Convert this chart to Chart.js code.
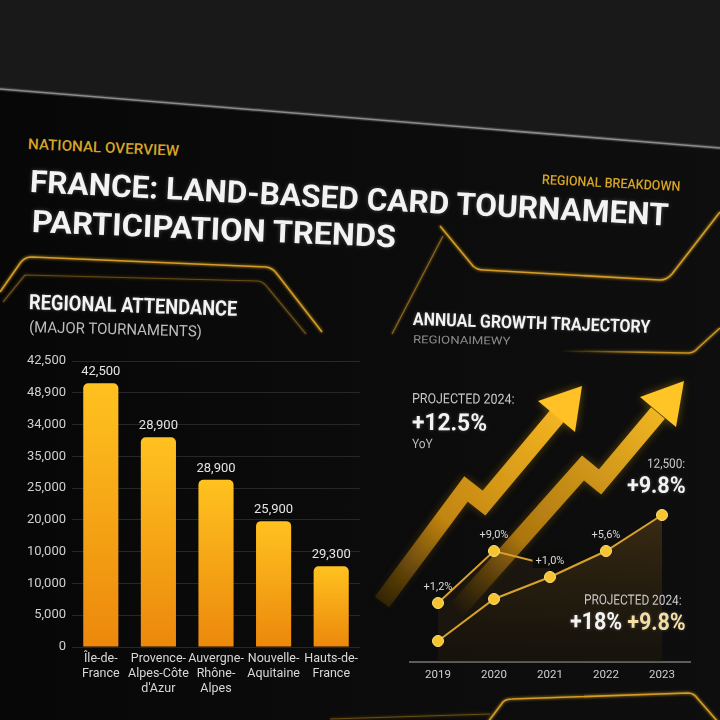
<!DOCTYPE html>
<html><head><meta charset="utf-8">
<script src="https://cdn.jsdelivr.net/npm/chart.js@4.4.1/dist/chart.umd.min.js"></script>
<style>
html,body{margin:0;padding:0;width:720px;height:720px;overflow:hidden;background:#0a0a0a;}
#stage{position:relative;width:720px;height:720px;overflow:hidden;font-family:Roboto,"Noto Sans",sans-serif;}
svg.layer{position:absolute;left:0;top:0;}
canvas{position:absolute;}
.t{position:absolute;white-space:nowrap;line-height:1;}
.b{font-weight:700;}
.m{font-weight:500;}
.gold{color:#d6a526;}
.w{color:#f3f3f3;text-shadow:0 0 4px rgba(255,255,255,0.25);}
</style></head><body>
<div id="stage">
<svg class="layer" width="720" height="720">
  <defs>
    <linearGradient id="bgLow" x1="0" y1="0" x2="1" y2="0">
      <stop offset="0" stop-color="#070707"/><stop offset="0.45" stop-color="#0b0b0b"/><stop offset="1" stop-color="#0e0e0e"/>
    </linearGradient>
    <linearGradient id="ag1" gradientUnits="userSpaceOnUse" x1="382" y1="602" x2="582" y2="386">
      <stop offset="0" stop-color="#7a5208" stop-opacity="0.3"/>
      <stop offset="0.35" stop-color="#c98a12" stop-opacity="0.95"/>
      <stop offset="1" stop-color="#ffc024"/>
    </linearGradient>
    <linearGradient id="ag2" gradientUnits="userSpaceOnUse" x1="455" y1="612" x2="684" y2="381">
      <stop offset="0" stop-color="#7a5208" stop-opacity="0"/>
      <stop offset="0.3" stop-color="#b97e10" stop-opacity="0.9"/>
      <stop offset="1" stop-color="#ffc428"/>
    </linearGradient>
    <linearGradient id="fadeL" gradientUnits="userSpaceOnUse" x1="560" y1="0" x2="720" y2="0">
      <stop offset="0" stop-color="#d19a22" stop-opacity="0"/><stop offset="0.5" stop-color="#d19a22" stop-opacity="0.8"/><stop offset="1" stop-color="#d19a22"/>
    </linearGradient>
    <filter id="glow" x="-20%" y="-20%" width="140%" height="140%">
      <feGaussianBlur stdDeviation="4" result="b"/>
      <feComponentTransfer in="b" result="bf"><feFuncA type="linear" slope="0.35"/></feComponentTransfer>
      <feMerge><feMergeNode in="bf"/><feMergeNode in="SourceGraphic"/></feMerge>
    </filter>
    <filter id="glow2" x="-10%" y="-10%" width="120%" height="120%"><feGaussianBlur stdDeviation="1.5" result="b"/><feMerge><feMergeNode in="b"/><feMergeNode in="SourceGraphic"/></feMerge></filter>
  </defs>
  <rect x="0" y="0" width="720" height="720" fill="url(#bgLow)"/>
  <polygon points="0,0 720,0 720,148 0,89" fill="#191919"/>
  <line x1="0" y1="89" x2="720" y2="148" stroke="#555" stroke-width="4" opacity="0.5"/>
  <line x1="0" y1="89" x2="720" y2="148" stroke="#8c8c8c" stroke-width="1.6"/>
  <!-- decorative gold frames -->
  <g fill="none" stroke-linejoin="round" filter="url(#glow2)">
    <path d="M0,292 L21,262 Q25,257 32,257 L266,267 Q273,268 277,274 L322,332" stroke="#d49c24" stroke-width="1.6"/>
    <path d="M3,302 L25,275 L258,281 Q264,282 268,288 L306,334" stroke="#7a5a1a" stroke-width="1.2" opacity="0.8"/>
    <path d="M392,334 L443,236" stroke="#9c7420" stroke-width="1.3" opacity="0.8"/>
    <path d="M440,226 L473,266 Q477,270 484,270 L660,280 Q667,280 672,274 L720,212" stroke="#d49c24" stroke-width="1.6"/>
    <path d="M560,351 L688,353 Q694,353 698,348 L720,328" stroke="url(#fadeL)" stroke-width="1.5"/>
    <path d="M488,722 L503,702 Q506,699 512,699 L688,693 Q694,693 698,699 L718,722" stroke="#d49c24" stroke-width="1.6"/>
    <path d="M330,719 L490,714" stroke="#6b4f16" stroke-width="1.2"/>
  </g>
  <!-- arrows -->
  <g filter="url(#glow)">
    <polyline points="382,602 466,489 484,503 557,416" fill="none" stroke="url(#ag1)" stroke-width="18" stroke-linejoin="miter"/>
    <polygon points="582,386 538,401 575,432" fill="#ffc126"/>
    <polyline points="455,612 583,468 600,482 658,413" fill="none" stroke="url(#ag2)" stroke-width="18" stroke-linejoin="miter"/>
    <polygon points="684,381 640,397 676,427" fill="#ffc428"/>
  </g>
</svg>

<canvas id="bar" width="380" height="370" style="left:0;top:340px"></canvas>
<canvas id="line" width="340" height="260" style="left:380px;top:440px"></canvas>

<div class="t m gold" data-x="28" data-cy="144" data-f="15" data-w="151" data-r="2.6">NATIONAL OVERVIEW</div>
<div class="t b w" data-x="30" data-cy="181" data-f="31" data-w="640" data-r="3">FRANCE: LAND-BASED CARD TOURNAMENT</div>
<div class="t b w" data-x="32" data-cy="221.5" data-f="31" data-w="364" data-r="2.4">PARTICIPATION TRENDS</div>
<div class="t m gold" data-x="542" data-cy="180" data-f="13.5" data-w="138" data-r="2.9">REGIONAL BREAKDOWN</div>
<div class="t b w" data-x="29" data-cy="302.5" data-f="21" data-w="208" data-r="1.9">REGIONAL ATTENDANCE</div>
<div class="t" style="color:#bdbdbd" data-x="29" data-cy="327.5" data-f="15.5" data-w="173" data-r="1.5">(MAJOR TOURNAMENTS)</div>
<div class="t b w" data-x="413" data-cy="318.5" data-f="18" data-w="237" data-r="1.9">ANNUAL GROWTH TRAJECTORY</div>
<div class="t" style="color:#8c8c8c" data-x="413" data-cy="339.5" data-f="11" data-w="97" data-r="1">REGIONAIMEWY</div>
<div class="t" style="color:#c9c9c9" data-x="412" data-cy="398" data-f="14" data-w="103" data-r="0.5">PROJECTED 2024:</div>
<div class="t b w" data-x="412" data-cy="421.5" data-f="24" data-w="75" data-r="0.5">+12.5%</div>
<div class="t" style="color:#bdbdbd" data-x="412" data-cy="443" data-f="13" data-w="21" data-r="0.5">YoY</div>
<div class="t" style="color:#c9c9c9" data-a="r" data-x="685" data-cy="463.5" data-f="13" data-w="38" data-r="0.5">12,500:</div>
<div class="t b w" data-a="r" data-x="686" data-cy="485" data-f="23" data-w="59" data-r="0.5">+9.8%</div>
<div class="t" style="color:#c9c9c9" data-a="r" data-x="682" data-cy="600" data-f="14" data-w="98" data-r="0.5">PROJECTED 2024:</div>
<div class="t b w" data-a="r" data-x="686" data-cy="621.5" data-f="24" data-w="116" data-r="0.5">+18% <span style="color:#f3dfa2">+9.8%</span></div>
</div>

<script>
// ---- data ----
const regions = [["Île-de-","France"],["Provence-","Alpes-Côte","d'Azur"],["Auvergne-","Rhône-","Alpes"],["Nouvelle-","Aquitaine"],["Hauts-de-","France"]];
const attendance = [41500, 33000, 26300, 19800, 12700];
const attendanceLabels = ["42,500","28,900","28,900","25,900","29,300"];
const yTickLabels = ["0","5,000","10,000","10,000","20,000","25,000","35,000","34,000","48,900","42,500"];
const years = ["2019","2020","2021","2022","2023"];
const growthLower = [10.5, 31.5, 42.5, 55.5, 73.5];
const growthUpper = [29.5, 55.5, 48.5, null, null];
const lowerLabels = [null, null, "+1,0%", "+5,6%", null];
const upperLabels = ["+1,2%", "+9,0%", null, null, null];

// ---- text placement ----
function place(){
  document.querySelectorAll('.t').forEach(el=>{
    const F=+el.dataset.f, x=+el.dataset.x, cy=+el.dataset.cy, w=+el.dataset.w, r=+(el.dataset.r||0), al=el.dataset.a||'l';
    el.style.fontSize=F+'px';
    const nw=el.offsetWidth; const k=w/nw; const oy=0.487*F;
    el.style.top=(cy-oy)+'px';
    if(al==='r'){ el.style.left=(x-nw)+'px'; el.style.transformOrigin=nw+'px '+oy+'px'; }
    else { el.style.left=x+'px'; el.style.transformOrigin='0px '+oy+'px'; }
    el.style.transform='rotate('+r+'deg) scaleX('+k+')';
  });
}
place();

Chart.defaults.font.family = 'Roboto, "Noto Sans", sans-serif';
Chart.defaults.animation = false;

// ---- bar chart ----
const barLabelPlugin = {
  id:'barLabels',
  afterDatasetsDraw(chart){
    const ctx=chart.ctx, meta=chart.getDatasetMeta(0);
    ctx.save(); ctx.font='13px Roboto, sans-serif'; ctx.fillStyle='#e4e4e4'; ctx.textAlign='center'; ctx.textBaseline='alphabetic';
    meta.data.forEach((el,i)=>ctx.fillText(attendanceLabels[i], el.x, el.y-8));
    ctx.restore();
  }
};
new Chart(document.getElementById('bar'), {
  type:'bar',
  data:{ labels: regions, datasets:[{
    data: attendance,
    backgroundColor(c){
      const ch=c.chart; if(!ch.chartArea) return '#f5a315';
      const ys=ch.scales.y; const top=ys.getPixelForValue(attendance[c.dataIndex]); const bot=ys.getPixelForValue(0);
      const g=ch.ctx.createLinearGradient(0,top,0,bot); g.addColorStop(0,'#ffc21f'); g.addColorStop(1,'#ec880c'); return g;
    },
    borderRadius:{topLeft:5,topRight:5,bottomLeft:0,bottomRight:0}, borderSkipped:'bottom',
    barPercentage:1, categoryPercentage:0.61
  }]},
  options:{
    responsive:false, devicePixelRatio:1,
    layout:{padding:{top:21,right:20,left:0,bottom:0}},
    plugins:{legend:{display:false},tooltip:{enabled:false}},
    scales:{
      x:{ grid:{display:false, drawTicks:false}, border:{display:false},
          ticks:{color:'#d8d8d8', font:{size:12.5, lineHeight:1.2}, padding:4, autoSkip:false, maxRotation:0},
          afterFit(s){ s.height=63; } },
      y:{ min:0, max:45000, grid:{color:'#272727', drawTicks:false}, border:{display:false},
          ticks:{stepSize:5000, color:'#cfcfcf', font:{size:13}, padding:6, callback:(v,i)=>yTickLabels[i]},
          afterFit(s){ s.width=72; } }
    }
  },
  plugins:[barLabelPlugin]
});

// ---- line chart ----
const lineLabelPlugin = {
  id:'lineLabels',
  afterDatasetsDraw(chart){
    const ctx=chart.ctx; ctx.save(); ctx.font='11px Roboto, sans-serif'; ctx.textAlign='center'; ctx.textBaseline='alphabetic';
    [[0,lowerLabels],[1,upperLabels]].forEach(([d,labs])=>{
      const meta=chart.getDatasetMeta(d);
      meta.data.forEach((el,i)=>{
        const s=labs[i]; if(!s) return;
        if(d===0 && i===2){ const tw=ctx.measureText(s).width; ctx.fillStyle='#0c0b0a'; ctx.fillRect(el.x-tw/2-3, el.y-26, tw+6, 17); }
        ctx.fillStyle='#d9d9d9'; ctx.fillText(s, el.x, el.y-13);
      });
    });
    ctx.restore();
  }
};
new Chart(document.getElementById('line'), {
  type:'line',
  data:{ labels: years, datasets:[
    { data: growthLower, borderColor:'#d8a22a', borderWidth:2, tension:0,
      pointRadius:5.5, pointBackgroundColor:'#f6c431', pointBorderColor:'#ffe07a', pointBorderWidth:1,
      fill:'origin',
      backgroundColor(c){ const ch=c.chart; if(!ch.chartArea) return 'rgba(120,85,25,0.3)';
        const a=ch.chartArea; const g=ch.ctx.createLinearGradient(0,a.top,0,a.bottom);
        g.addColorStop(0,'rgba(140,100,32,0.5)'); g.addColorStop(1,'rgba(60,42,12,0.2)'); return g; } },
    { data: growthUpper, borderColor:'#d8a22a', borderWidth:2, tension:0,
      pointRadius:[5.5,5.5,0], pointBackgroundColor:'#f6c431', pointBorderColor:'#ffe07a', pointBorderWidth:1,
      fill:0, backgroundColor:'rgba(110,80,25,0.14)' }
  ]},
  options:{
    responsive:false, devicePixelRatio:1,
    layout:{padding:{top:22,right:30,left:30,bottom:0}},
    plugins:{legend:{display:false},tooltip:{enabled:false}},
    scales:{
      x:{ offset:true, grid:{display:false, drawTicks:false}, border:{display:true, color:'#5c5c5c', width:2},
          ticks:{color:'#d0d0d0', font:{size:11.5}, padding:6}, afterFit(s){ s.height=38; } },
      y:{ display:false, min:0, max:100 }
    }
  },
  plugins:[lineLabelPlugin]
});
</script>
</body></html>
